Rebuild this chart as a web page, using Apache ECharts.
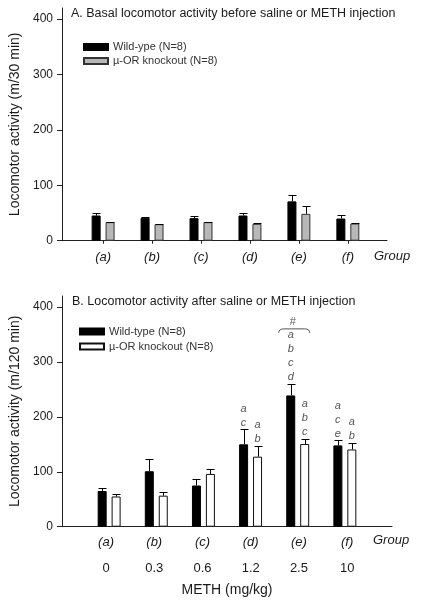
<!DOCTYPE html>
<html><head><meta charset="utf-8">
<script src="https://cdn.jsdelivr.net/npm/echarts@6/dist/echarts.min.js"></script>
<style>html,body{margin:0;padding:0;background:#fff}#c{width:421px;height:601px}</style>
</head><body><div id="c"></div>
<script>
// ---- data ----
const groups = ['(a)','(b)','(c)','(d)','(e)','(f)'];
const doses = ['0','0.3','0.6','1.2','2.5','10'];
const yTicks = [0,100,200,300,400];
const groupPos = [1,2,3,4,5,6];
// Panel A (m/30 min)
const wtA = [45.5, 41.3, 40.7, 45.5, 71, 40];
const wtAErr = [4.3, 1.2, 3.7, 4.3, 11.5, 6];
const koA = [33.5, 29.8, 33.5, 30.4, 48.5, 31];
const koAErr = [0.8, 1.2, 0.8, 1.1, 14.5, 1];
// Panel B (m/120 min)
const wtB = [65, 101, 75, 150, 239, 148];
const wtBErr = [5, 23, 11, 27, 21, 9];
const koB = [55, 56.5, 96, 127.5, 150.6, 140.6];
const koBErr = [4, 7.5, 9.6, 19.5, 9.4, 12.4];
const lettersWtB = [[],[],[],['a','c'],['a','b','c','d'],['a','c','e']];
const lettersKoB = [[],[],[],['a','b'],['a','b','c'],['a','b']];
const hashB = ['','','','','#',''];
const legendNames = {wtA:'Wild-ype (N=8)', koA:'\u00b5-OR knockout (N=8)', wtB:'Wild-type (N=8)', koB:'\u00b5-OR knockout (N=8)'};

const FF = "'Liberation Sans', Arial, sans-serif";
const TXT = '#1a1a1a';
const OFF = 7;

function pts(vals){ return vals.map((v,i)=>[groupPos[i], v]); }
function errPts(vals, errs){ return vals.map((v,i)=>[groupPos[i], v, v+errs[i]]); }

function errRender(dx){
  return function(params, api){
    const x = api.value(0), v = api.value(1), top = api.value(2);
    const p0 = api.coord([x, v]); const p1 = api.coord([x, top]);
    const cx = Math.round(p0[0] + dx) + 0.5;
    const ty = Math.round(p1[1]) + 0.5;
    return {type:'group', children:[
      {type:'line', shape:{x1:cx,y1:p0[1],x2:cx,y2:ty}, style:{stroke:'#000',lineWidth:1}},
      {type:'line', shape:{x1:cx-4,y1:ty,x2:cx+4,y2:ty}, style:{stroke:'#000',lineWidth:1}}
    ]};
  };
}
function letterRender(letters, dx, hashes){
  return function(params, api){
    const i = params.dataIndex;
    const L = letters[i];
    const p = api.coord([api.value(0), api.value(2)]);
    const cx = p[0] + dx;
    const children = L.map((ch,j)=>({type:'text', style:{text:ch, x:cx, y:p[1]-7-14*(L.length-1-j),
      align:'center', verticalAlign:'middle', fontSize:11, fontStyle:'italic', fontFamily:FF, fill:'#555'}}));
    if (hashes && hashes[i]) {
      const topY = p[1]-7-14*(L.length-1);
      const yt = topY-6, yb = topY-2, x0 = cx-12, x1 = cx+19;
      children.push({type:'path', shape:{pathData:`M${x0} ${yb} Q${x0} ${yt} ${x0+5} ${yt} L${x1-5} ${yt} Q${x1} ${yt} ${x1} ${yb}`},
        style:{stroke:'#555', fill:null, lineWidth:1}});
      children.push({type:'text', style:{text:hashes[i], x:cx+2, y:topY-12.5, align:'center', verticalAlign:'middle',
        fontSize:11, fontFamily:FF, fill:'#555'}});
    }
    return {type:'group', children};
  };
}

const yAxisCommon = {
  type:'value', min:0, max:420, position:'left',
  nameLocation:'middle', nameGap:40,
  nameTextStyle:{fontSize:14, color:TXT, fontFamily:FF},
  axisLine:{show:true, lineStyle:{color:'#222', width:1}},
  axisTick:{show:true, length:5, customValues:yTicks, lineStyle:{color:'#222'}},
  axisLabel:{customValues:yTicks, margin:9, fontSize:12, color:TXT, fontFamily:FF},
  splitLine:{show:false}
};

const chart = echarts.init(document.getElementById('c'), null, {renderer:'canvas'});
chart.setOption({
  animation:false,
  backgroundColor:'#fff',
  title:[
    {text:'A. Basal locomotor activity before saline or METH injection', left:71, top:7, padding:0,
     textStyle:{fontSize:12.5, fontWeight:'normal', color:TXT, fontFamily:FF}},
    {text:'B. Locomotor activity after saline or METH injection', left:72, top:295, padding:0,
     textStyle:{fontSize:12.5, fontWeight:'normal', color:TXT, fontFamily:FF}}
  ],
  legend:[
    {left:83, top:41.5, orient:'vertical', icon:'rect', itemWidth:24, itemHeight:6, itemGap:3, padding:0,
     data:['wtA','koA'], formatter:n=>legendNames[n], selectedMode:false,
     textStyle:{fontSize:11, color:'#333', fontFamily:FF}},
    {left:79, top:326, orient:'vertical', icon:'rect', itemWidth:24, itemHeight:6, itemGap:4, padding:0,
     data:['wtB','koB'], formatter:n=>legendNames[n], selectedMode:false,
     textStyle:{fontSize:11, color:'#333', fontFamily:FF}}
  ],
  grid:[
    {left:62, top:8, width:325, height:232.7},
    {left:62, top:296, width:330, height:230.7}
  ],
  xAxis:[
    {gridIndex:0, type:'value', position:'bottom', min:0.16, max:6.8,
     axisLine:{show:true, onZero:false, lineStyle:{color:'#222'}},
     axisTick:{show:true, length:3, customValues:groupPos, lineStyle:{color:'#222'}},
     axisLabel:{customValues:groupPos, formatter:v=>groups[v-1], margin:10, fontSize:13, fontStyle:'italic', color:TXT, fontFamily:FF},
     splitLine:{show:false}},
    {gridIndex:1, type:'value', position:'bottom', min:0.087, max:6.93,
     axisLine:{show:true, onZero:false, lineStyle:{color:'#222'}},
     axisTick:{show:false},
     axisLabel:{customValues:groupPos, formatter:v=>groups[v-1], margin:9, fontSize:13, fontStyle:'italic', color:TXT, fontFamily:FF},
     splitLine:{show:false}},
    {gridIndex:1, type:'value', position:'bottom', min:0, max:7, show:false},
    {gridIndex:1, type:'value', position:'bottom', min:0.087, max:6.93,
     name:'METH (mg/kg)', nameLocation:'middle', nameGap:56,
     nameTextStyle:{fontSize:14, color:TXT, fontFamily:FF},
     axisLine:{show:false, onZero:false}, axisTick:{show:false},
     axisLabel:{customValues:groupPos, formatter:v=>doses[v-1], margin:35, fontSize:13, color:TXT, fontFamily:FF},
     splitLine:{show:false}}
  ],
  yAxis:[
    Object.assign({}, yAxisCommon, {gridIndex:0, name:'Locomotor activity (m/30 min)'}),
    Object.assign({}, yAxisCommon, {gridIndex:1, name:'Locomotor activity (m/120 min)'})
  ],
  graphic:[
    {type:'text', left:374, top:250, style:{text:'Group', fontSize:13, fontStyle:'italic', fontFamily:FF, fill:TXT}},
    {type:'text', left:373, top:534, style:{text:'Group', fontSize:13, fontStyle:'italic', fontFamily:FF, fill:TXT}}
  ],
  series:[
    {name:'wtA', type:'bar', xAxisIndex:0, yAxisIndex:0, data:pts(wtA), barWidth:9, barGap:'55%',
     itemStyle:{color:'#000', borderColor:'#000', borderWidth:1}},
    {name:'koA', type:'bar', xAxisIndex:0, yAxisIndex:0, data:pts(koA), barWidth:9, barGap:'55%',
     itemStyle:{color:'#b8b8b8', borderColor:'#333', borderWidth:1}},
    {type:'custom', xAxisIndex:0, yAxisIndex:0, data:errPts(wtA, wtAErr), renderItem:errRender(-OFF), z:3},
    {type:'custom', xAxisIndex:0, yAxisIndex:0, data:errPts(koA, koAErr), renderItem:errRender(OFF), z:3},

    {name:'wtB', type:'bar', xAxisIndex:2, yAxisIndex:1, data:pts(wtB), barWidth:9, barGap:'55%',
     itemStyle:{color:'#000', borderColor:'#000', borderWidth:1}},
    {name:'koB', type:'bar', xAxisIndex:2, yAxisIndex:1, data:pts(koB), barWidth:9, barGap:'55%',
     itemStyle:{color:'#fff', borderColor:'#111', borderWidth:1}},
    {type:'custom', xAxisIndex:2, yAxisIndex:1, data:errPts(wtB, wtBErr), renderItem:errRender(-OFF), z:3},
    {type:'custom', xAxisIndex:2, yAxisIndex:1, data:errPts(koB, koBErr), renderItem:errRender(OFF), z:3},
    {type:'custom', xAxisIndex:2, yAxisIndex:1, data:errPts(wtB, wtBErr), renderItem:letterRender(lettersWtB, -OFF, hashB), z:4},
    {type:'custom', xAxisIndex:2, yAxisIndex:1, data:errPts(koB, koBErr), renderItem:letterRender(lettersKoB, OFF, null), z:4}
  ]
});
</script></body></html>
